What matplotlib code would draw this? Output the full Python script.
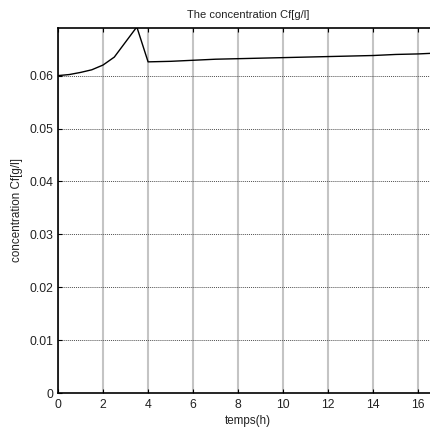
import matplotlib
matplotlib.use("Agg")
import matplotlib.pyplot as plt
import numpy as np

t = [0, 0.5, 1.0, 1.5, 2.0, 2.5, 3.5, 4.0, 5, 6, 7, 8, 9, 10, 11, 12, 13, 14, 15, 16, 17]
cf = [0.0600, 0.0602, 0.0606, 0.0611, 0.0620, 0.0635, 0.0692, 0.0626, 0.0627, 0.0629, 0.0631,
      0.0632, 0.0633, 0.0634, 0.0635, 0.0636, 0.0637, 0.0638, 0.0640, 0.0641, 0.0643]
xticks = [0, 2, 4, 6, 8, 10, 12, 14, 16]
yticks = [0, 0.01, 0.02, 0.03, 0.04, 0.05, 0.06]
ytick_labels = ["0", "0.01", "0.02", "0.03", "0.04", "0.05", "0.06"]

plt.rcParams['font.family'] = ['Liberation Sans', 'DejaVu Sans']
fig = plt.figure(figsize=(4.30, 4.41), dpi=100)
ax = fig.add_axes([58/430, 1-393/441, 1-58/430 + 0.02, (393-28)/441])
ax.plot(t, cf, color='black', lw=1.0, clip_on=True)
ax.set_xlim(0, 16.9)
ax.set_ylim(0, 0.069)
ax.set_xticks(xticks)
ax.set_xticklabels([str(v) for v in xticks])
ax.set_yticks(yticks)
ax.set_yticklabels(ytick_labels)
ax.tick_params(direction='in', top=True, right=True, labelsize=8.8, length=3,
               labelcolor='#222222')
ax.tick_params(axis='x', pad=4)
ax.tick_params(axis='y', pad=3)
ax.xaxis.grid(True, color='#c4c4c4', lw=1.5, ls='-')
ax.yaxis.grid(True, color='#505050', lw=0.7, ls=(0, (1, 1)))
for s in ['left', 'bottom', 'top']:
    ax.spines[s].set_linewidth(1.2)
ax.set_title('The concentration Cf[g/l]', fontsize=8.0, pad=7, color='#222222')
ax.set_xlabel('temps(h)', fontsize=8.4, labelpad=3, color='#222222')
ax.set_ylabel('concentration Cf[g/l]', fontsize=8.4, labelpad=5, color='#222222')
fig.savefig('out.png', dpi=100)
